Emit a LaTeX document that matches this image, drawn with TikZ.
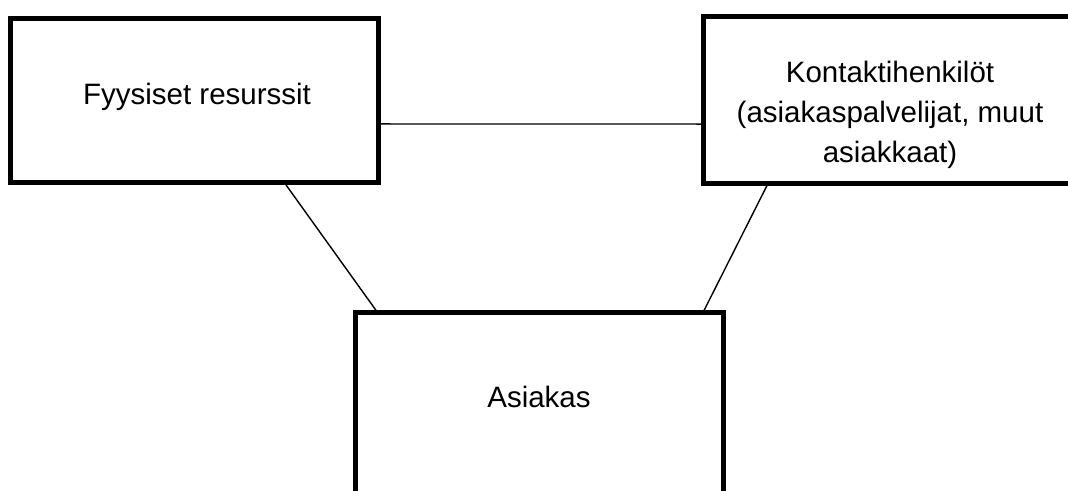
\documentclass[tikz,border=0pt]{standalone}
\usepackage{fontspec}
\setmainfont{Liberation Sans}
\usetikzlibrary{calc}
\tikzset{
  box/.style={draw, line width=5pt, line join=miter, rectangle, inner sep=0pt, outer sep=0pt},
  link/.style={line width=1.4pt},
  label/.style={font=\fontsize{29.5}{40}\selectfont, inner sep=0pt, align=center}
}
\begin{document}
\begin{tikzpicture}[x=1pt, y=-1pt]
  \useasboundingbox (0,0) rectangle (1068,490);
  \clip (0,0) rectangle (1068,490);

  % boxes
  \node[box, minimum width=367.5pt, minimum height=164pt] (fr) at (194.25,100) {};
  \node[box, minimum width=375pt, minimum height=167pt] (kh) at (890.5,99.5) {};
  \node[box, minimum width=368pt, minimum height=250pt] (as) at (539.5,437) {};

  % texts
  \node[label] (frt) at (197,97) {Fyysiset resurssit};
  \node[label] (kht) at (890,115) {Kontaktihenkilöt\\(asiakaspalvelijat, muut\\asiakkaat)};
  \node[label] (ast) at (539,397) {Asiakas};

  % connectors
  \draw[link] ($(fr.south east)!0.354!(fr.north east)$) -- ($(kh.south west)!0.353!(kh.north west)$);
  \draw[link] ($(fr.south west)!0.744!(fr.south east)$) -- ($(as.north west)!0.059!(as.north east)$);
  \draw[link] ($(kh.south west)!0.174!(kh.south east)$) -- ($(as.north west)!0.945!(as.north east)$);
\end{tikzpicture}
\end{document}
